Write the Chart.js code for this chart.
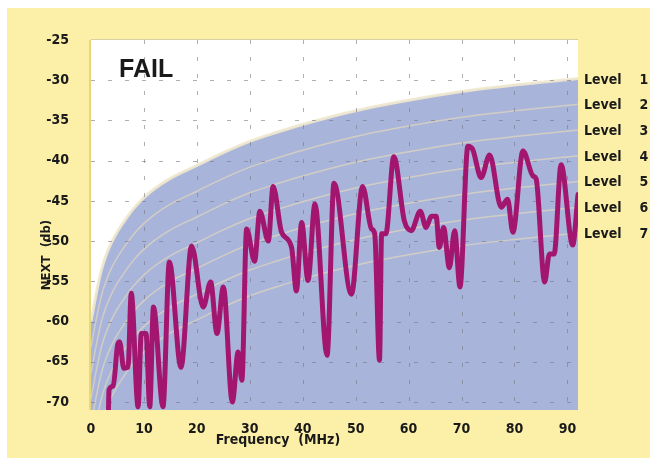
<!DOCTYPE html>
<html><head><meta charset="utf-8">
<script src="https://cdn.jsdelivr.net/npm/chart.js@4/dist/chart.umd.min.js"></script>
<style>html,body{margin:0;padding:0;background:#fff;}canvas{display:block}</style>
</head><body>
<canvas id="c" width="657" height="463"></canvas>
<script>
// ---- data ----
const xTicks = [0, 10, 20, 30, 40, 50, 60, 70, 80, 90];
const yTicks = [-25, -30, -35, -40, -45, -50, -55, -60, -65, -70];

const traceFreq = [3.3, 3.4, 4.2, 5.0, 5.4, 6.2, 7.0, 7.6, 8.9, 9.5, 10.4, 11.1, 11.8, 13.6, 14.8, 17.0, 19.0, 21.2, 22.6, 23.8, 25.0, 26.7, 27.8, 28.5, 29.4, 30.9, 31.9, 33.5, 34.4, 36.0, 37.9, 38.8, 39.8, 41.0, 42.3, 44.6, 45.9, 49.2, 51.3, 53.0, 53.6, 54.5, 54.9, 55.7, 57.2, 59.2, 60.5, 62.2, 63.3, 64.3, 65.2, 65.8, 66.6, 67.7, 68.7, 69.7, 71.2, 72.1, 73.7, 75.3, 77.5, 78.7, 79.7, 81.6, 83.5, 84.1, 85.7, 86.6, 87.5, 88.8, 91.0, 92.0];
const traceNext = [-71, -68.5, -68, -63, -62.5, -65.8, -65.7, -56.5, -70.6, -61.5, -61.5, -70.6, -58.2, -70.6, -52.6, -65.7, -50.6, -58.2, -55.1, -61.5, -55.7, -70, -63.8, -67.3, -48.5, -52.5, -46.3, -50, -43.2, -48.9, -50.8, -56.2, -47.7, -54.9, -45.4, -64.2, -42.8, -56.6, -43.2, -48.5, -49.1, -64.8, -49.1, -49.1, -39.5, -47.5, -48.7, -46.3, -48.3, -46.9, -46.9, -50.8, -48.3, -53.3, -48.7, -55.7, -38.2, -38.6, -42.1, -39.3, -45.8, -44.8, -48.9, -38.8, -41.9, -42.3, -55.1, -51.6, -51.6, -40.5, -50.5, -44.2];

const levelFreq = [0, 1, 2, 3, 4, 5, 6, 8, 10, 12, 15, 20, 25, 30, 35, 40, 50, 60, 70, 80, 92];
const level1 = [-60, -56.5, -53.5, -51.5, -50, -48.8, -47.8, -46, -44.6, -43.5, -42.2, -40.6, -39, -37.6, -36.5, -35.5, -33.8, -32.5, -31.4, -30.6, -29.8];
const level2 = [-63.2, -59.7, -56.7, -54.7, -53.2, -52, -51, -49.2, -47.8, -46.7, -45.4, -43.8, -42.2, -40.8, -39.7, -38.7, -37, -35.7, -34.6, -33.8, -33];
const level3 = [-66.4, -62.9, -59.9, -57.9, -56.4, -55.2, -54.2, -52.4, -51, -49.9, -48.6, -47, -45.4, -44, -42.9, -41.9, -40.2, -38.9, -37.8, -37, -36.2];
const level4 = [-69.6, -66.1, -63.1, -61.1, -59.6, -58.4, -57.4, -55.6, -54.2, -53.1, -51.8, -50.2, -48.6, -47.2, -46.1, -45.1, -43.4, -42.1, -41, -40.2, -39.4];
const level5 = [-72.8, -69.3, -66.3, -64.3, -62.8, -61.6, -60.6, -58.8, -57.4, -56.3, -55, -53.4, -51.8, -50.4, -49.3, -48.3, -46.6, -45.3, -44.2, -43.4, -42.6];
const level6 = [-76, -72.5, -69.5, -67.5, -66, -64.8, -63.8, -62, -60.6, -59.5, -58.2, -56.6, -55, -53.6, -52.5, -51.5, -49.8, -48.5, -47.4, -46.6, -45.8];
const level7 = [-79.2, -75.7, -72.7, -70.7, -69.2, -68, -67, -65.2, -63.8, -62.7, -61.4, -59.8, -58.2, -56.8, -55.7, -54.7, -53, -51.7, -50.6, -49.8, -49];

const levelNames = ['Level', 'Level', 'Level', 'Level', 'Level', 'Level', 'Level'];
const levelNumbers = ['1', '2', '3', '4', '5', '6', '7'];
const xTitle = 'Frequency  (MHz)';
const yTitle = 'NEXT  (db)';
const failText = 'FAIL';

// ---- styling ----
const FONT = "'Liberation Sans Narrow','Arial Narrow','DejaVu Sans Condensed','Liberation Sans',sans-serif";
const YELLOW = '#fcf0a8';
const BLUE = '#a9b4db';
const TRACE = '#a3166f';
const LEVEL_LINE = 'rgba(236,222,180,0.6)';

const pts = (xs, ys) => xs.map((x, i) => ({x: x, y: ys[i]}));
const levelSets = [level1, level2, level3, level4, level5, level6, level7];

const datasets = [
  {data: pts(traceFreq, traceNext), borderColor: TRACE, borderWidth: 5, pointRadius: 0,
   cubicInterpolationMode: 'monotone', fill: false, borderJoinStyle: 'round', borderCapStyle: 'round'}
];
for (let k = levelSets.length - 1; k >= 1; k--) {
  datasets.push({data: pts(levelFreq, levelSets[k]), borderColor: LEVEL_LINE, borderWidth: 1.5,
    pointRadius: 0, cubicInterpolationMode: 'monotone', fill: false});
}
datasets.push({data: pts(levelFreq, levelSets[0]), borderColor: 'rgba(240,232,205,0.9)', borderWidth: 3,
  pointRadius: 0, cubicInterpolationMode: 'monotone', fill: 'start', backgroundColor: BLUE});

const bgPlugin = {
  id: 'bg',
  beforeDraw(chart) {
    const {ctx, chartArea: a} = chart;
    ctx.save();
    ctx.fillStyle = '#ffffff';
    ctx.fillRect(0, 0, chart.width, chart.height);
    ctx.fillStyle = YELLOW;
    ctx.fillRect(7, 8, 643, 450);
    ctx.fillStyle = '#ffffff';
    ctx.fillRect(a.left, a.top, a.right - a.left, a.bottom - a.top);
    ctx.restore();
  },
  beforeDatasetDraw(chart, args) {
    if (args.index !== 0) return;
    const {ctx, chartArea: a, scales} = chart;
    ctx.save();
    ctx.strokeStyle = 'rgba(120,120,130,0.6)';
    ctx.lineWidth = 1;
    ctx.setLineDash([4, 13]);
    xTicks.forEach(v => {
      const px = Math.round(scales.x.getPixelForValue(v)) + 0.5;
      if (px <= a.left + 2 || px >= a.right - 2) return;
      ctx.beginPath(); ctx.moveTo(px, a.top); ctx.lineTo(px, a.bottom); ctx.stroke();
    });
    yTicks.forEach(v => {
      const py = Math.round(scales.y.getPixelForValue(v)) + 0.5;
      if (py <= a.top + 2 || py >= a.bottom - 2) return;
      ctx.beginPath(); ctx.moveTo(a.left, py); ctx.lineTo(a.right, py); ctx.stroke();
    });
    ctx.setLineDash([]);
    ctx.restore();
  },
  afterDraw(chart) {
    const {ctx, chartArea: a} = chart;
    ctx.save();
    ctx.strokeStyle = '#e6d77a';
    ctx.lineWidth = 2;
    ctx.beginPath(); ctx.moveTo(a.left - 1, a.top); ctx.lineTo(a.left - 1, a.bottom); ctx.stroke();
    ctx.strokeStyle = '#d8d0a0';
    ctx.lineWidth = 1;
    ctx.beginPath(); ctx.moveTo(a.left, a.top - 0.5); ctx.lineTo(a.right, a.top - 0.5); ctx.stroke();

    ctx.fillStyle = '#1a1a1a';
    ctx.font = "bold 25px 'Liberation Sans',Arial,sans-serif";
    ctx.textAlign = 'left'; ctx.textBaseline = 'middle';
    ctx.fillText(failText, 119, 70);
    ctx.font = 'bold 14px ' + FONT;
    const ly = [80, 105, 131, 157, 182, 208, 234];
    levelNames.forEach((t, i) => {
      ctx.textAlign = 'left';
      ctx.fillText(t, 584, ly[i]);
      ctx.textAlign = 'center';
      ctx.fillText(levelNumbers[i], 644, ly[i]);
    });
    ctx.textAlign = 'center';
    ctx.font = 'bold 14px ' + FONT;
    ctx.fillText(xTitle, 278, 440);
    ctx.translate(47, 255);
    ctx.rotate(-Math.PI / 2);
    ctx.font = 'bold 13px ' + FONT;
    ctx.fillText(yTitle, 0, 0);
    ctx.restore();
  }
};

new Chart(document.getElementById('c'), {
  type: 'line',
  data: {datasets: datasets},
  plugins: [bgPlugin],
  options: {
    responsive: false,
    animation: false,
    devicePixelRatio: 1,
    layout: {padding: {top: 40, right: 79, left: 0, bottom: 0}},
    plugins: {legend: {display: false}, tooltip: {enabled: false}},
    scales: {
      x: {
        type: 'linear', min: 0, max: 92,
        afterBuildTicks: s => { s.ticks = xTicks.map(v => ({value: v})); },
        afterFit: s => { s.height = 53; },
        grid: {display: false},
        border: {display: false},
        ticks: {color: '#1a1a1a', font: {family: FONT, size: 14, weight: 'bold'}, padding: 3, maxRotation: 0, autoSkip: false}
      },
      y: {
        type: 'linear', min: -71, max: -25,
        afterBuildTicks: s => { s.ticks = yTicks.map(v => ({value: v})); },
        afterFit: s => { s.width = 91; },
        grid: {display: false},
        border: {display: false},
        ticks: {color: '#1a1a1a', font: {family: FONT, size: 14, weight: 'bold'}, padding: 14, autoSkip: false}
      }
    }
  }
});
</script>
</body></html>
